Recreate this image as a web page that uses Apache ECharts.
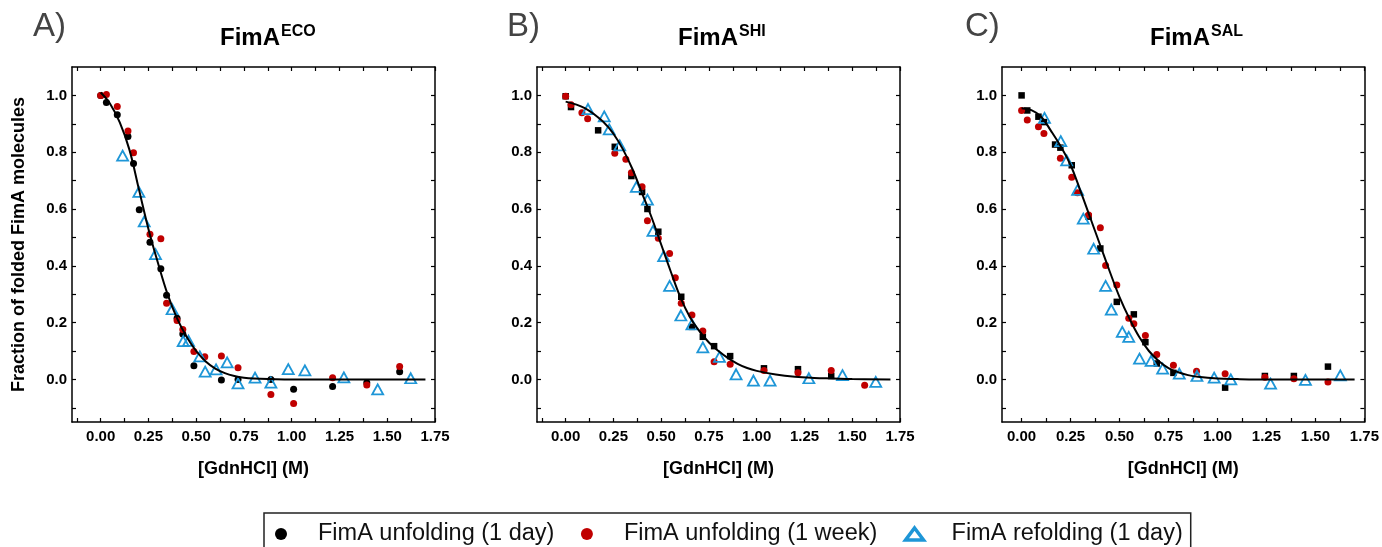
<!DOCTYPE html>
<html><head><meta charset="utf-8">
<script src="https://cdn.jsdelivr.net/npm/echarts@6/dist/echarts.min.js"></script>
<style>html,body{margin:0;padding:0;background:#fff}#c{width:1382px;height:547px}</style>
</head><body><div id="c"></div>
<script>
const FONT = '"Liberation Sans", Arial, Helvetica, sans-serif';

// ---- text ----
const seriesNames = ['FimA unfolding (1 day)', 'FimA unfolding (1 week)', 'FimA refolding (1 day)'];
const panelLetters = ['A)', 'B)', 'C)'];
const panelTitles = ['FimA', 'FimA', 'FimA'];
const panelSuperscripts = ['ECO', 'SHI', 'SAL'];
const xAxisName = '[GdnHCl] (M)';
const yAxisName = 'Fraction of folded FimA molecules';

// ---- ticks ----
const xTickLabels = [0, 0.25, 0.5, 0.75, 1.0, 1.25, 1.5, 1.75];
const xTicks = [-0.125, 0, 0.125, 0.25, 0.375, 0.5, 0.625, 0.75, 0.875, 1.0, 1.125, 1.25, 1.375, 1.5, 1.625, 1.75];
const yTickLabels = [0, 0.2, 0.4, 0.6, 0.8, 1.0];
const yTicks = [-0.1, 0, 0.1, 0.2, 0.3, 0.4, 0.5, 0.6, 0.7, 0.8, 0.9, 1.0];
const xMins = [-0.15, -0.15, -0.1];
const xMax = 1.75, yMin = -0.15, yMax = 1.1;

// ---- Panel A: FimA ECO ----
const ecoUnfold1d = [[0,1.0],[0.03,0.975],[0.087,0.932],[0.143,0.855],[0.172,0.76],[0.202,0.597],[0.258,0.483],[0.315,0.39],[0.345,0.296],[0.40,0.215],[0.43,0.16],[0.488,0.048],[0.632,-0.002],[0.719,0.0],[0.891,0.0],[1.01,-0.035],[1.214,-0.025],[1.393,-0.012],[1.565,0.027]];
const ecoUnfold1w = [[0,1.0],[0.03,1.003],[0.087,0.961],[0.143,0.875],[0.172,0.798],[0.258,0.511],[0.315,0.495],[0.345,0.268],[0.40,0.207],[0.43,0.176],[0.488,0.098],[0.545,0.08],[0.632,0.082],[0.719,0.041],[0.891,-0.053],[1.01,-0.085],[1.214,0.006],[1.393,-0.02],[1.565,0.045]];
const ecoRefold1d = [[0.115,0.788],[0.2,0.66],[0.228,0.556],[0.287,0.441],[0.374,0.247],[0.432,0.135],[0.46,0.136],[0.519,0.081],[0.547,0.027],[0.604,0.035],[0.662,0.06],[0.719,-0.014],[0.808,0.006],[0.891,-0.011],[0.982,0.036],[1.069,0.032],[1.273,0.007],[1.45,-0.035],[1.623,0.004]];
const ecoFit = [[0,1.01],[0.05,0.97],[0.1,0.905],[0.15,0.81],[0.2,0.67],[0.25,0.53],[0.3,0.41],[0.35,0.30],[0.4,0.215],[0.45,0.15],[0.5,0.10],[0.55,0.063],[0.6,0.038],[0.65,0.022],[0.7,0.012],[0.75,0.006],[0.8,0.003],[0.9,0.001],[1.0,0],[1.7,0]];

// ---- Panel B: FimA SHI ----
const shiUnfold1d = [[0,0.997],[0.028,0.959],[0.17,0.877],[0.257,0.819],[0.344,0.716],[0.40,0.66],[0.428,0.60],[0.485,0.52],[0.605,0.291],[0.661,0.185],[0.718,0.15],[0.777,0.117],[0.861,0.082],[1.038,0.039],[1.216,0.036],[1.39,0.012]];
const shiUnfold1w = [[0,0.997],[0.028,0.967],[0.085,0.939],[0.115,0.918],[0.257,0.796],[0.315,0.775],[0.344,0.728],[0.40,0.678],[0.428,0.559],[0.485,0.497],[0.544,0.443],[0.574,0.358],[0.605,0.268],[0.661,0.227],[0.718,0.17],[0.777,0.062],[0.861,0.053],[1.038,0.031],[1.216,0.023],[1.39,0.031],[1.565,-0.021]];
const shiRefold1d = [[0.117,0.952],[0.202,0.926],[0.228,0.88],[0.283,0.824],[0.37,0.678],[0.428,0.633],[0.457,0.523],[0.513,0.434],[0.544,0.329],[0.603,0.225],[0.661,0.194],[0.718,0.113],[0.805,0.079],[0.892,0.018],[0.983,-0.004],[1.07,-0.004],[1.273,0.004],[1.449,0.015],[1.623,-0.009]];
const shiFit = [[0,0.978],[0.1,0.955],[0.2,0.905],[0.25,0.865],[0.3,0.81],[0.35,0.74],[0.4,0.655],[0.45,0.57],[0.5,0.475],[0.55,0.38],[0.6,0.29],[0.65,0.22],[0.7,0.17],[0.75,0.13],[0.8,0.10],[0.85,0.075],[0.9,0.055],[0.95,0.04],[1.0,0.03],[1.1,0.017],[1.2,0.009],[1.3,0.005],[1.4,0.003],[1.5,0.001],[1.7,0]];

// ---- Panel C: FimA SAL ----
const salUnfold1d = [[0,1.0],[0.029,0.947],[0.086,0.925],[0.114,0.906],[0.171,0.827],[0.198,0.816],[0.256,0.754],[0.342,0.573],[0.402,0.461],[0.486,0.273],[0.573,0.229],[0.632,0.131],[0.69,0.056],[0.775,0.023],[1.039,-0.029],[1.242,0.012],[1.39,0.012],[1.564,0.045]];
const salUnfold1w = [[0,0.947],[0.029,0.913],[0.086,0.89],[0.114,0.866],[0.198,0.779],[0.256,0.712],[0.285,0.657],[0.342,0.579],[0.402,0.534],[0.429,0.401],[0.486,0.332],[0.547,0.215],[0.573,0.196],[0.632,0.155],[0.69,0.088],[0.775,0.05],[0.893,0.029],[1.039,0.02],[1.242,0.008],[1.39,0.002],[1.564,-0.009]];
const salRefold1d = [[0.117,0.921],[0.2,0.839],[0.23,0.771],[0.286,0.667],[0.315,0.566],[0.368,0.46],[0.429,0.329],[0.458,0.246],[0.514,0.167],[0.547,0.15],[0.602,0.073],[0.661,0.065],[0.72,0.038],[0.805,0.02],[0.895,0.012],[0.983,0.006],[1.068,0.0],[1.271,-0.015],[1.449,-0.002],[1.627,0.014]];
const salFit = [[0,0.955],[0.05,0.948],[0.1,0.925],[0.15,0.875],[0.2,0.82],[0.25,0.755],[0.3,0.665],[0.35,0.57],[0.4,0.475],[0.45,0.38],[0.5,0.29],[0.55,0.215],[0.6,0.15],[0.65,0.10],[0.7,0.065],[0.75,0.04],[0.8,0.025],[0.85,0.015],[0.9,0.009],[1.0,0.003],[1.1,0.001],[1.2,0],[1.7,0]];

// ---- build ----
const panels = [
  {u1: ecoUnfold1d, u2: ecoUnfold1w, r: ecoRefold1d, fit: ecoFit, blackSymbol: 'circle'},
  {u1: shiUnfold1d, u2: shiUnfold1w, r: shiRefold1d, fit: shiFit, blackSymbol: 'rect'},
  {u1: salUnfold1d, u2: salUnfold1w, r: salRefold1d, fit: salFit, blackSymbol: 'rect'}
];
const gridLefts = [72, 537, 1002];
const titleSplitX = [280, 738, 1210];
const letterX = [33, 507, 965];
const BLUE = '#1e96d7', RED = '#c00000';

const grids = [], xAxes = [], yAxes = [], series = [], graphics = [];
const axisLine = {show: true, onZero: false, lineStyle: {color: '#000', width: 1.5}};
const tickStyle = {color: '#000', width: 1.2};
const labelFont = {fontSize: 15, fontWeight: 'bold', fontFamily: FONT, color: '#000'};

panels.forEach((p, i) => {
  grids.push({left: gridLefts[i], top: 67, width: 363, height: 355, show: false});
  const xt = xTicks.filter(v => v >= xMins[i] && v <= xMax);
  xAxes.push({
    type: 'value', gridIndex: i, min: xMins[i], max: xMax, position: 'bottom',
    axisLine, splitLine: {show: false},
    axisTick: {inside: true, length: 4, customValues: xt, lineStyle: tickStyle},
    axisLabel: Object.assign({customValues: xTickLabels, margin: 7, formatter: v => v.toFixed(2)}, labelFont),
    name: xAxisName, nameLocation: 'middle', nameGap: 38,
    nameTextStyle: {fontSize: 18, fontWeight: 'bold', fontFamily: FONT, color: '#000'}
  });
  xAxes.push({
    type: 'value', gridIndex: i, min: xMins[i], max: xMax, position: 'top',
    axisLine, splitLine: {show: false},
    axisTick: {inside: true, length: 4, customValues: xt, lineStyle: tickStyle},
    axisLabel: {show: false}
  });
  yAxes.push({
    type: 'value', gridIndex: i, min: yMin, max: yMax, position: 'left',
    axisLine, splitLine: {show: false},
    axisTick: {inside: true, length: 4, customValues: yTicks, lineStyle: tickStyle},
    axisLabel: Object.assign({customValues: yTickLabels, margin: 5, formatter: v => v.toFixed(1)}, labelFont),
    name: i === 0 ? yAxisName : '', nameLocation: 'middle', nameGap: 44,
    nameTextStyle: {fontSize: 18, fontWeight: 'bold', fontFamily: FONT, color: '#000'}
  });
  yAxes.push({
    type: 'value', gridIndex: i, min: yMin, max: yMax, position: 'right',
    axisLine, splitLine: {show: false},
    axisTick: {inside: true, length: 4, customValues: yTicks, lineStyle: tickStyle},
    axisLabel: {show: false}
  });
  const xi = i * 2, yi = i * 2;
  series.push({
    type: 'scatter', name: seriesNames[0], xAxisIndex: xi, yAxisIndex: yi, data: p.u1,
    symbol: p.blackSymbol, symbolSize: p.blackSymbol === 'circle' ? 7 : 6.5,
    itemStyle: {color: '#000', opacity: 1}, z: 2
  });
  series.push({
    type: 'scatter', name: seriesNames[1], xAxisIndex: xi, yAxisIndex: yi, data: p.u2,
    symbol: 'circle', symbolSize: 7, itemStyle: {color: RED, opacity: 1}, z: 3
  });
  series.push({
    type: 'scatter', name: seriesNames[2], xAxisIndex: xi, yAxisIndex: yi, data: p.r,
    symbol: 'triangle', symbolSize: [11, 10],
    itemStyle: {color: 'transparent', borderColor: BLUE, borderWidth: 1.8, opacity: 1}, z: 4
  });
  series.push({
    type: 'line', name: 'fit' + i, xAxisIndex: xi, yAxisIndex: yi, data: p.fit,
    smooth: 0.4, showSymbol: false, symbol: 'none', silent: true,
    lineStyle: {color: '#000', width: 2}, z: 5
  });
  graphics.push({type: 'text', x: letterX[i], y: 27, silent: true,
    style: {text: panelLetters[i], font: '33px ' + FONT, fill: '#444', align: 'left', verticalAlign: 'middle'}});
  graphics.push({type: 'text', x: titleSplitX[i], y: 38, silent: true,
    style: {text: panelTitles[i], font: 'bold 24px ' + FONT, fill: '#000', align: 'right', verticalAlign: 'middle'}});
  graphics.push({type: 'text', x: titleSplitX[i] + 1, y: 32, silent: true,
    style: {text: panelSuperscripts[i], font: 'bold 16px ' + FONT, fill: '#000', align: 'left', verticalAlign: 'middle'}});
});

const chart = echarts.init(document.getElementById('c'), null, {renderer: 'canvas'});
chart.setOption({
  animation: false,
  backgroundColor: '#fff',
  grid: grids, xAxis: xAxes, yAxis: yAxes, series: series,
  graphic: graphics,
  legend: {
    left: 264, top: 513, orient: 'horizontal', selectedMode: false,
    itemWidth: 18, itemHeight: 12, itemGap: 26.5,
    padding: [9, 8, 40, 11], borderColor: '#222', borderWidth: 1.5,
    textStyle: {fontSize: 23.5, fontFamily: FONT, color: '#111', padding: [0, 0, 0, 23]},
    data: [
      {name: seriesNames[0], icon: 'circle', itemStyle: {color: '#000', opacity: 1}},
      {name: seriesNames[1], icon: 'circle', itemStyle: {color: RED, opacity: 1}},
      {name: seriesNames[2], icon: 'triangle', itemStyle: {color: 'transparent', borderColor: BLUE, borderWidth: 3.5, opacity: 1}}
    ]
  }
});
</script></body></html>
